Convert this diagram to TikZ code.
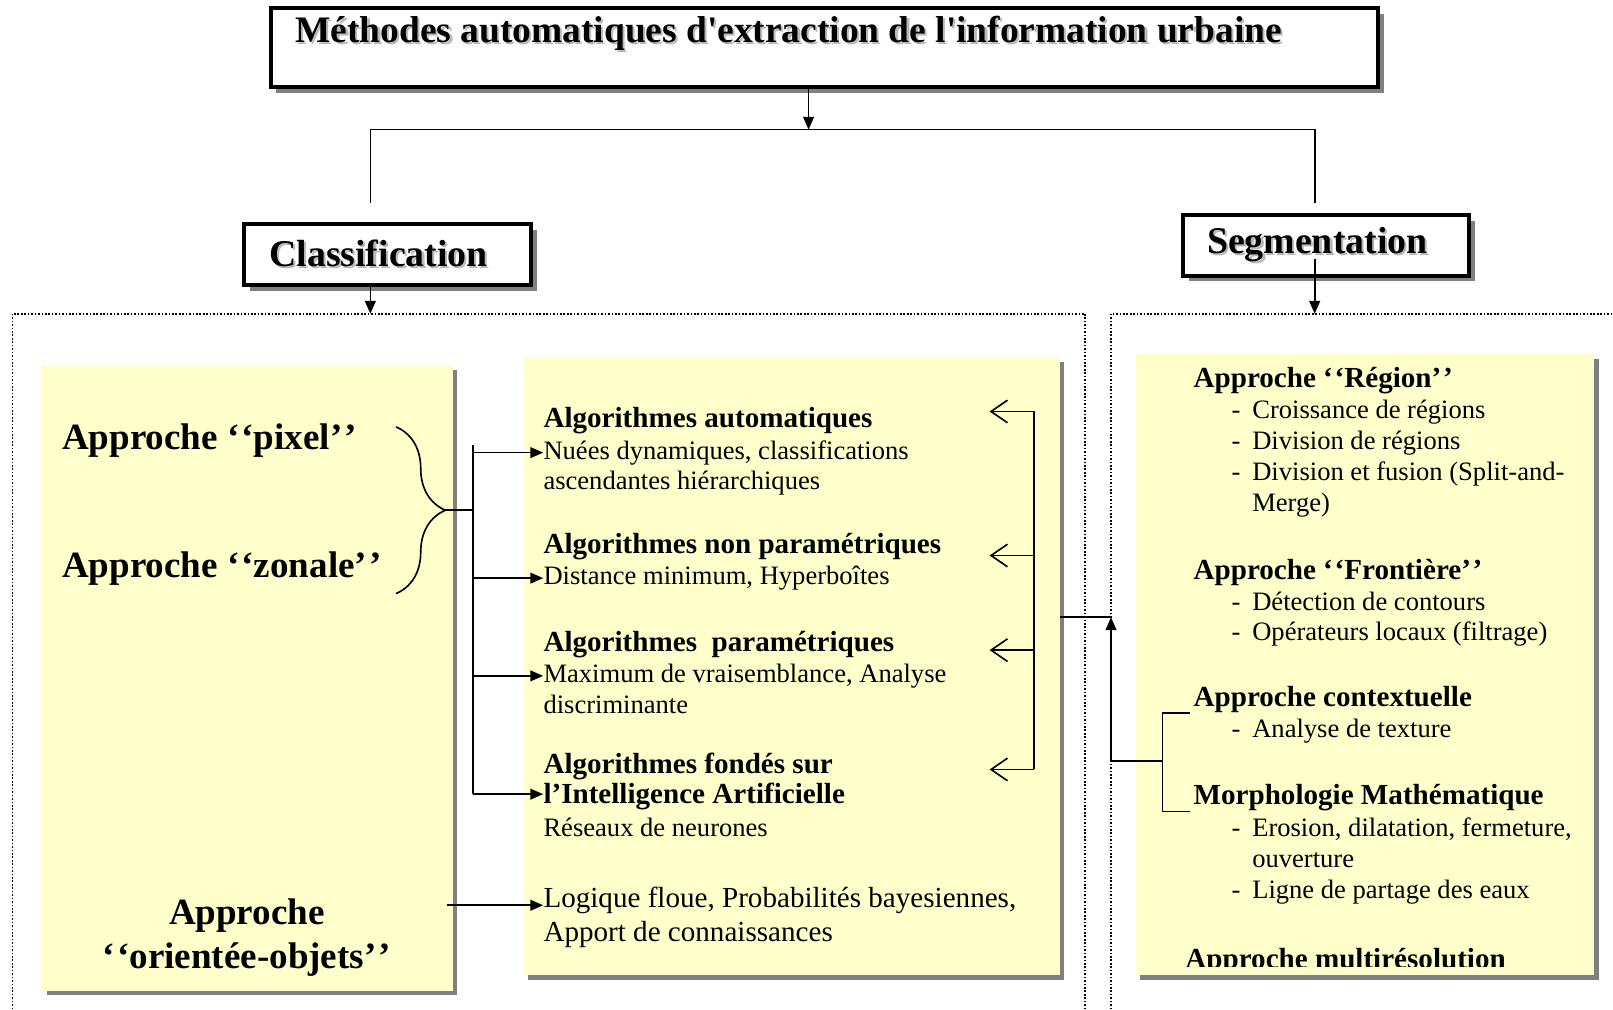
\documentclass[tikz,border=0pt]{standalone}
\usepackage{fontspec}
\setmainfont{Liberation Serif}[Ligatures=TeXOff]
\usetikzlibrary{arrows.meta,shadows,decorations.pathreplacing}
\definecolor{paneyellow}{RGB}{255,255,204}
\definecolor{shadegray}{RGB}{128,128,128}
\newcommand{\shadowtxt}[1]{\makebox[0pt][l]{\hspace{1.2pt}\raisebox{-1.2pt}{\color{gray!55}#1}}#1}
\newcommand{\dash}{\makebox[0.4cm][l]{-}}
\newcommand{\oq}{‘\kern0.06em‘}
\newcommand{\cq}{’\kern0.06em’}
\tikzset{headbox/.style={draw,line width=2.2pt,fill=white,inner sep=0pt,
   general shadow={fill=shadegray,shadow xshift=3.2pt,shadow yshift=-3.2pt}},
 panel/.style={fill=paneyellow,inner sep=0pt,
   general shadow={fill=shadegray,shadow xshift=2.6pt,shadow yshift=-2.6pt}},
 zone/.style={densely dotted,line width=0.9pt},
 link/.style={line width=0.9pt},
 arr/.style={link,-{Triangle[length=2.5mm,width=2.1mm]}},
 barb/.style={link,-{Straight Barb[length=3.2mm,width=4.4mm]}},
 bighead/.style={inner sep=0pt,anchor=west,text height=14.4pt,text depth=4.5pt,
   font=\fontsize{20.5}{24}\selectfont\bfseries},
 subhead/.style={inner sep=0pt,anchor=west,text height=11.3pt,text depth=3.5pt,
   font=\fontsize{16.1}{19}\selectfont\bfseries},
 body/.style={inner sep=0pt,anchor=west,text height=10.3pt,text depth=3.2pt,
   font=\fontsize{14.7}{17}\selectfont},
 bodylarge/.style={body,text height=11.3pt,text depth=3.5pt,
   font=\fontsize{16.1}{19}\selectfont},
 }

\begin{document}
\begin{tikzpicture}[x=0.02cm,y=-0.02cm]
        \useasboundingbox (0,0) rectangle (1568,981);

        \node[headbox,minimum width=21.54cm,minimum height=1.54cm] (title) at (801.5,46.5) {};
        \node[inner sep=0pt,anchor=west,font=\fontsize{20.7}{24}\selectfont\bfseries] (titletxt) at (287,33)
            {\shadowtxt{Méthodes automatiques d'extraction de l'information urbaine}};
        \node[headbox,minimum width=5.58cm,minimum height=1.18cm,font=\fontsize{20.9}{24}\selectfont\bfseries] (cls)
            at (376.5,247.5) {\raisebox{2pt}{\shadowtxt{Classification}}\kern0.34cm};
        \node[headbox,minimum width=5.56cm,minimum height=1.18cm,font=\fontsize{20.9}{24}\selectfont\bfseries] (seg)
            at (1289,238.5) {\shadowtxt{Segmentation}\kern0.34cm};

        \coordinate (tsplit) at (786,126);
        \coordinate (lroot) at (360,197);
        \coordinate (rroot) at (1278,197);
        \draw[arr] (title.south -| tsplit) -- (tsplit);
        \draw[link] (lroot) -- (lroot |- tsplit) -- (rroot |- tsplit) -- (rroot);

        \draw[zone] (12,981) -- (12,305) -- (1055,305) -- (1055,981);
        \draw[zone] (1080,981) -- (1080,305) -- (1568,305);
        \coordinate (lzone) at (360,305);
        \coordinate (rzone) at (1278,305);
        \coordinate (segout) at (1278,252);
        \draw[arr] (cls.south -| lzone) -- (lzone);
        \draw[arr] (segout) -- (rzone);

        \node[panel,minimum width=7.98cm,minimum height=12.16cm] (pleft) at (240.5,659) {};
        \node[panel,minimum width=10.42cm,minimum height=12.02cm] (pmid) at (769.5,647.5) {};
        \node[panel,minimum width=8.92cm,minimum height=12.08cm] (pright) at (1327,646) {};

        \node[bighead] (pixel) at (60,428) {Approche \oq pixel\cq};
        \node[bighead] (zonale) at (60,553) {Approche \oq zonale\cq};
        \node[inner sep=0pt,align=center,font=\fontsize{20.5}{24.4}\selectfont\bfseries] (objets) at (240,911)
            {Approche\\\oq orientée-objets\cq};

        \node[subhead] (auto) at (528,409) {Algorithmes automatiques};
        \node[body] (nuees) at (528,440) {Nuées dynamiques, classifications};
        \node[body] (ascend) at (528,470) {ascendantes hiérarchiques};
        \node[subhead] (nonpar) at (528,531) {Algorithmes non paramétriques};
        \node[body] (dist) at (528,562) {Distance minimum, Hyperboîtes};
        \node[subhead] (param) at (528,626) {Algorithmes\ \ paramétriques};
        \node[body] (maxvr) at (528,657) {Maximum de vraisemblance, Analyse};
        \node[body] (discr) at (528,687) {discriminante};
        \node[subhead] (fondes) at (528,745) {Algorithmes fondés sur};
        \node[subhead] (intel) at (528,774) {l’Intelligence Artificielle};
        \node[body] (neur) at (528,807) {Réseaux de neurones};
        \node[bodylarge] (floue) at (528,875) {Logique floue, Probabilités bayesiennes,};
        \node[bodylarge] (apport) at (528,908) {Apport de connaissances};

        \coordinate (bracetop) at (385,415);
        \coordinate (bracebot) at (385,577);
        \coordinate (bracetip) at (433,496);
        \coordinate (trunktop) at (460,433);
        \coordinate (trunkbot) at (460,772);
        \coordinate (objout) at (435,880);
        \draw[link,decorate,decoration={brace,amplitude=0.96cm}] (bracetop) -- (bracebot);
        \draw[link] (bracetip) -- (bracetip -| trunktop);
        \draw[link] (trunktop) -- (trunkbot);
        \draw[arr] (trunktop |- nuees) -- (nuees.west);
        \draw[arr] (trunktop |- dist) -- (dist.west);
        \draw[arr] (trunktop |- maxvr) -- (maxvr.west);
        \draw[arr] (trunkbot) -- (trunkbot -| intel.west);
        \draw[arr] (objout) -- (objout -| floue.west);

        \coordinate (fbtop) at (1005,400);
        \coordinate (fbbot) at (1005,748);
        \coordinate (tipline) at (962,0);
        \draw[link] (fbtop) -- (fbbot);
        \draw[barb] (fbtop) -- (fbtop -| tipline);
        \draw[barb] (1005,540) -- (tipline |- 0,540);
        \draw[barb] (1005,632) -- (tipline |- 0,632);
        \draw[barb] (fbbot) -- (fbbot -| tipline);

        \node[subhead] (region) at (1160,370) {Approche \oq Région\cq};
        \node[body] (crois) at (1197,401) {\dash Croissance de régions};
        \node[body] (divis) at (1197,431) {\dash Division de régions};
        \node[body] (fusion) at (1197,461) {\dash Division et fusion (Split-and-};
        \node[body] (merge) at (1217,491) {Merge)};
        \node[subhead] (front) at (1160,556) {Approche \oq Frontière\cq};
        \node[body] (contour) at (1197,587) {\dash Détection de contours};
        \node[body] (operat) at (1197,616) {\dash Opérateurs locaux (filtrage)};
        \node[subhead] (ctx) at (1160,680) {Approche contextuelle};
        \node[body] (texture) at (1197,711) {\dash Analyse de texture};
        \node[subhead] (morpho) at (1160,775) {Morphologie Mathématique};
        \node[body] (erosion) at (1197,807) {\dash Erosion, dilatation, fermeture,};
        \node[body] (ouvert) at (1217,837) {ouverture};
        \node[body] (ligne) at (1197,867) {\dash Ligne de partage des eaux};
        \begin{scope}
            \clip (1104,344) rectangle (1550,940);
            \node[subhead] (multi) at (1152,935) {Approche multirésolution};
        \end{scope}

        \coordinate (segjoin) at (1080,600);
        \coordinate (segfork) at (1080,740);
        \coordinate (forkx) at (1130,740);
        \coordinate (ctxin) at (1157,693);
        \coordinate (morin) at (1157,789);
        \draw[link] (pmid.east |- segjoin) -- (segjoin);
        \draw[arr] (segfork) -- (segjoin);
        \draw[link] (segfork) -- (forkx);
        \draw[link] (ctxin) -| (forkx) |- (morin);
    \end{tikzpicture}
\end{document}
